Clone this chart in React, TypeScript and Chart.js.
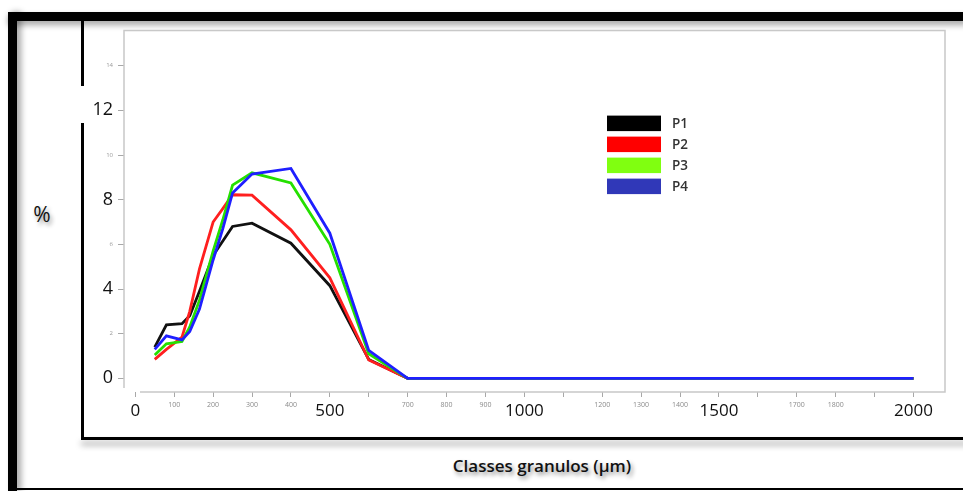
import React, { useEffect, useRef } from "react";
import { Chart, registerables } from "chart.js";

Chart.register(...registerables);

// ---- data ----
const sizes = [50, 80, 120, 140, 165, 200, 225, 250, 300, 400, 500, 600, 700, 2000];
const seriesNames = ["P1", "P2", "P3", "P4"];
const p1 = [1.4, 2.4, 2.45, 2.8, 3.9, 5.5, 6.15, 6.8, 6.95, 6.05, 4.15, 0.85, 0, 0];
const p2 = [0.85, 1.3, 1.85, 3.0, 4.9, 7.0, 7.6, 8.22, 8.2, 6.65, 4.5, 0.82, 0, 0];
const p3 = [1.05, 1.55, 1.65, 2.3, 3.5, 5.7, 7.1, 8.65, 9.2, 8.75, 6.0, 1.1, 0, 0];
const p4 = [1.3, 1.9, 1.72, 2.1, 3.1, 5.3, 6.7, 8.3, 9.15, 9.4, 6.5, 1.25, 0, 0];
const seriesValues = [p1, p2, p3, p4];
const lineColors = ["#111111", "#ff1f1f", "#25e000", "#1f1fff"];
const legendColors = ["#000000", "#ff0000", "#80ff10", "#3038b8"];

const xTicks = [0, 100, 200, 300, 400, 500, 600, 700, 800, 900, 1000, 1100, 1200, 1300, 1400, 1500, 1600, 1700, 1800, 1900, 2000];
const xBigLabels = [0, 500, 1000, 1500, 2000];
const xHiddenLabels = [600, 1100, 1600, 1900];
const yTicks = [0, 2, 4, 6, 8, 10, 12, 14];
const yBigLabels = [0, 4, 8, 12];

const FAMILY = "'Open Sans', 'Liberation Sans', sans-serif";

const framePlugin = {
  id: "frameAndLegend",
  afterDraw(chart: any) {
    const { ctx, chartArea } = chart;
    const { left, right, top, bottom } = chartArea;
    ctx.save();
    ctx.strokeStyle = "#c8c8c8";
    ctx.lineWidth = 1.5;
    ctx.beginPath();
    ctx.moveTo(left, bottom - 4);
    ctx.lineTo(left, top);
    ctx.lineTo(right, top);
    ctx.lineTo(right, bottom);
    ctx.lineTo(left + 16, bottom);
    ctx.stroke();

    // legend
    const lx = left + 483;
    const ly = top + 85;
    chart.data.datasets.forEach((ds: any, i: number) => {
      const y = ly + i * 21;
      ctx.fillStyle = legendColors[i];
      ctx.fillRect(lx, y, 54, 15.5);
      ctx.fillStyle = "#333333";
      ctx.font = `600 13.5px ${FAMILY}`;
      ctx.textAlign = "left";
      ctx.textBaseline = "middle";
      ctx.fillText(ds.label, lx + 65, y + 9);
    });
    ctx.restore();
  },
};

export default function App() {
  const ref = useRef<HTMLCanvasElement>(null);

  useEffect(() => {
    const canvas = ref.current!;
    const chart = new Chart(canvas, {
      type: "line",
      data: {
        datasets: seriesNames.map((name, i) => ({
          label: name,
          data: sizes.map((x, j) => ({ x, y: seriesValues[i][j] })),
          borderColor: lineColors[i],
          backgroundColor: legendColors[i],
          borderWidth: 2.8,
          pointRadius: 0,
          tension: 0,
          fill: false,
          order: 4 - i,
        })),
      },
      options: {
        animation: false,
        responsive: false,
        maintainAspectRatio: false,
        layout: { padding: { top: 6, right: 9, left: 0, bottom: 0 } },
        plugins: {
          legend: { display: false },
          title: { display: false },
          tooltip: { enabled: false },
        },
        scales: {
          x: {
            type: "linear",
            min: -29,
            max: 2081,
            afterBuildTicks: (s: any) => {
              s.ticks = xTicks.map((v) => ({ value: v }));
            },
            afterFit: (s: any) => {
              s.height = 42;
            },
            grid: { drawOnChartArea: false, drawTicks: true, tickLength: 5, color: "#a8a8a8" },
            border: { display: false },
            ticks: {
              autoSkip: false,
              maxRotation: 0,
              minRotation: 0,
              padding: 4,
              callback: (v: any) => (xHiddenLabels.includes(Number(v)) ? "" : String(v)),
              font: (c: any) =>
                xBigLabels.includes(c.tick?.value)
                  ? { size: 17, family: FAMILY }
                  : { size: 7, family: FAMILY },
              color: (c: any) => (xBigLabels.includes(c.tick?.value) ? "#111111" : "#8a8a8a"),
            },
          },
          y: {
            type: "linear",
            min: -0.61,
            max: 15.57,
            afterBuildTicks: (s: any) => {
              s.ticks = yTicks.map((v) => ({ value: v }));
            },
            afterFit: (s: any) => {
              s.width = 40;
            },
            grid: { drawOnChartArea: false, drawTicks: true, tickLength: 6, color: "#a8a8a8" },
            border: { display: false },
            ticks: {
              autoSkip: false,
              padding: 5,
              callback: (v: any) => String(v),
              font: (c: any) =>
                yBigLabels.includes(c.tick?.value)
                  ? { size: 18, family: FAMILY }
                  : { size: 6, family: FAMILY },
              color: (c: any) => (yBigLabels.includes(c.tick?.value) ? "#111111" : "#999999"),
            },
          },
        },
      },
      plugins: [framePlugin],
    });
    return () => chart.destroy();
  }, []);

  const abs = (s: React.CSSProperties): React.CSSProperties => ({ position: "absolute", ...s });

  return (
    <div
      style={abs({
        left: 0,
        top: 0,
        width: 963,
        height: 491,
        background: "#ffffff",
        overflow: "hidden",
        fontFamily: FAMILY,
      })}
    >
      {/* outer frame */}
      <div style={abs({ left: 8, top: 12, width: 960, height: 9, background: "#000", boxShadow: "0 4px 6px rgba(0,0,0,0.35)" })} />
      <div style={abs({ left: 8, top: 12, width: 9, height: 480, background: "#000", boxShadow: "4px 0 6px rgba(0,0,0,0.35)" })} />
      <div style={abs({ left: 8, top: 488, width: 960, height: 2, background: "#000" })} />
      {/* inner box */}
      <div style={abs({ left: 81, top: 20, width: 3, height: 420, background: "#000" })} />
      <div style={abs({ left: 81, top: 437, width: 890, height: 3, background: "#000", boxShadow: "0 5px 6px rgba(0,0,0,0.4)" })} />
      {/* white label patch over the box line */}
      <div style={abs({ left: 80, top: 86, width: 44, height: 37, background: "#fff" })} />
      {/* axis titles */}
      <div
        style={abs({
          left: 22,
          top: 200,
          width: 40,
          textAlign: "center",
          fontSize: 21,
          lineHeight: "28px",
          color: "#111",
          textShadow: "2px 3px 4px rgba(0,0,0,0.45)",
        })}
      >
        %
      </div>
      <div
        style={abs({
          left: 392,
          top: 453,
          width: 300,
          textAlign: "center",
          fontSize: 17,
          fontWeight: 600,
          lineHeight: "26px",
          color: "#111",
          textShadow: "2px 3px 4px rgba(0,0,0,0.45)",
        })}
      >
        Classes granulos (µm)
      </div>
      <canvas
        ref={ref}
        width={870}
        height={412}
        style={abs({ left: 84, top: 22, width: 870, height: 412 })}
      />
    </div>
  );
}
